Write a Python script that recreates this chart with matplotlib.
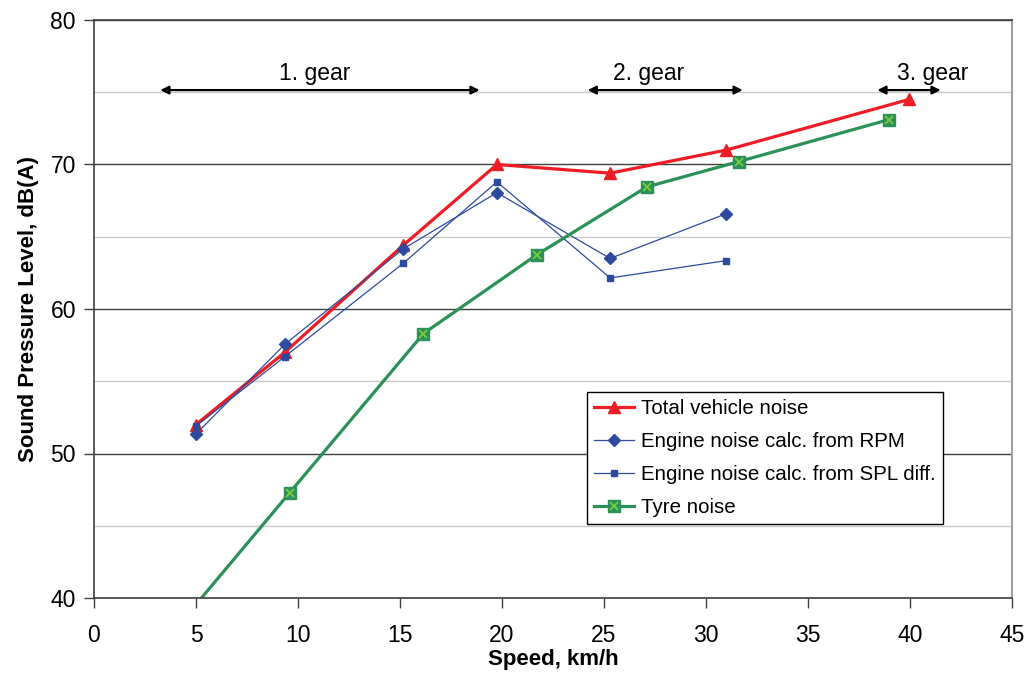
import matplotlib
matplotlib.use("Agg")
import matplotlib.pyplot as plt
from matplotlib.legend_handler import HandlerTuple
from matplotlib.ticker import MultipleLocator

plt.rcParams["font.family"] = ["Liberation Sans", "DejaVu Sans"]

# measured levels vs. vehicle speed
speed_total = [5.0, 9.35, 15.15, 19.75, 25.3, 31.0, 39.95]
spl_total = [52.0, 57.0, 64.4, 70.0, 69.4, 71.0, 74.5]

speed_engine = [5.0, 9.35, 15.15, 19.75, 25.3, 31.0]
spl_engine_rpm = [51.35, 57.55, 64.15, 68.05, 63.5, 66.6]
spl_engine_diff = [51.9, 56.7, 63.15, 68.8, 62.15, 63.35]

speed_tyre = [4.85, 9.6, 16.15, 21.7, 27.1, 31.6, 38.95]
spl_tyre = [39.3, 47.3, 58.3, 63.75, 68.45, 70.2, 73.1]

# gear ranges (start, end, label, label centre)
gear_ranges = [(3.25, 18.9, "1. gear", 10.8),
               (24.2, 31.8, "2. gear", 27.2),
               (38.4, 41.5, "3. gear", 41.1)]

red = "#ee1c24"
blue = "#2e4a9e"
green = "#2a9158"

fig = plt.figure(figsize=(10.31, 6.75), dpi=100)
ax = fig.add_axes([94 / 1031, 1 - 598 / 675, 918 / 1031, 578 / 675])

ax.set_xlim(0, 45)
ax.set_ylim(40, 80)
ax.xaxis.set_major_locator(MultipleLocator(5))
ax.yaxis.set_major_locator(MultipleLocator(10))
ax.yaxis.set_minor_locator(MultipleLocator(5))

ax.grid(axis="y", which="major", color="#404040", lw=1.0)
ax.grid(axis="y", which="minor", color="#c8c8c8", lw=1.0)
ax.set_axisbelow(True)

for side in ["left", "bottom", "top"]:
    ax.spines[side].set_color("#404040")
    ax.spines[side].set_linewidth(1.2)
ax.spines["right"].set_color("#a0a0a0")
ax.spines["right"].set_linewidth(1.5)

ax.tick_params(axis="both", which="major", direction="out", length=7,
               width=1, color="#404040", labelsize=16.5, pad=6)
ax.tick_params(axis="y", which="minor", length=0)
ax.tick_params(axis="x", pad=12)

l_total, = ax.plot(speed_total, spl_total, color=red, lw=2.3, marker="^",
                   ms=8.5, label="Total vehicle noise")
l_rpm, = ax.plot(speed_engine, spl_engine_rpm, color=blue, lw=0.9, marker="D",
                 ms=6.5, label="Engine noise calc. from RPM")
l_diff, = ax.plot(speed_engine, spl_engine_diff, color=blue, lw=0.9, marker="s",
                  ms=4.5, label="Engine noise calc. from SPL diff.")
l_tyre, = ax.plot(speed_tyre, spl_tyre, color=green, lw=2.3, marker="s",
                  ms=9, mfc=green, mec=green)
x_tyre, = ax.plot(speed_tyre, spl_tyre, ls="none", marker="x", ms=6,
                  mew=1.3, color="#7ccc3c")

for x0, x1, name, xc in gear_ranges:
    ax.annotate("", xy=(x0, 75.15), xytext=(x1, 75.15),
                arrowprops=dict(arrowstyle="<|-|>", color="black", lw=1.6,
                                mutation_scale=12, shrinkA=0, shrinkB=0))
    ax.text(xc, 76.3, name, ha="center", va="center", fontsize=16.5)

ax.set_xlabel("Speed, km/h", fontsize=16, fontweight="bold", labelpad=1)
ax.set_ylabel("Sound Pressure Level, dB(A)", fontsize=16, fontweight="bold",
              labelpad=8)

leg = ax.legend([l_total, l_rpm, l_diff, (l_tyre, x_tyre)],
                ["Total vehicle noise", "Engine noise calc. from RPM",
                 "Engine noise calc. from SPL diff.", "Tyre noise"],
                handler_map={tuple: HandlerTuple(ndivide=1)},
                loc="upper left", bbox_to_anchor=(587 / 1031, 1 - 392 / 675),
                bbox_transform=fig.transFigure, fontsize=14.8, frameon=True,
                fancybox=False, edgecolor="black", framealpha=1,
                handlelength=1.95, handletextpad=0.35, borderpad=0.35,
                labelspacing=0.68, borderaxespad=0)
leg.get_frame().set_linewidth(1.0)

fig.savefig("out.png", dpi=100)
